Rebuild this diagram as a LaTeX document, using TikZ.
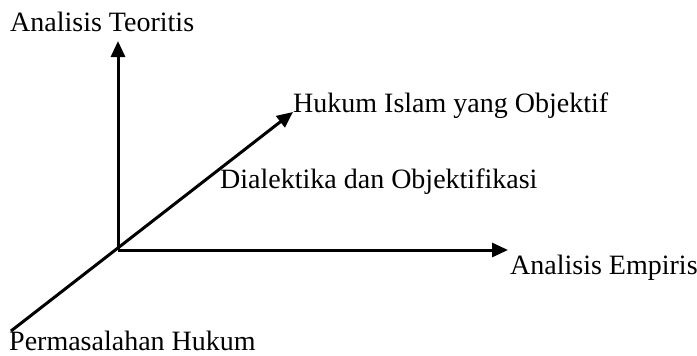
\documentclass[tikz,border=0pt]{standalone}
\usepackage{fontspec}
\setmainfont{Liberation Serif}
\usetikzlibrary{arrows.meta}
\begin{document}
\begin{tikzpicture}[x=1pt,y=-1pt,
  lbl/.style={anchor=base west,inner sep=0pt,font=\fontsize{28}{33}\selectfont},
  axis/.style={line width=3pt,-{Triangle[length=16pt,width=14pt]}}]
\useasboundingbox (0,0) rectangle (697,356);
\coordinate (o) at (118,250);
\coordinate (up) at (118,41);
\coordinate (right) at (508,250);
\coordinate (diagEnd) at (293,112);
\coordinate (diagStart) at (11,331);
\node[lbl] (teor) at (10,31) {Analisis Teoritis};
\node[lbl] (obj) at (293,112) {Hukum Islam yang Objektif};
\node[lbl] (dial) at (220,188) {Dialektika dan Objektifikasi};
\node[lbl] (emp) at (510,274) {Analisis Empiris};
\node[lbl] (perm) at (9,350) {Permasalahan Hukum};
\draw[axis] (o) -- (up);
\draw[axis] (o) -- (right);
\draw[axis] (diagStart) -- (diagEnd);
\end{tikzpicture}
\end{document}
